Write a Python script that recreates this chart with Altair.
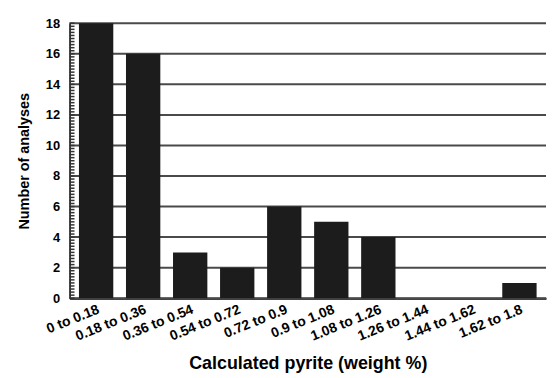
import altair as alt
import pandas as pd

categories = ["0 to 0.18", "0.18 to 0.36", "0.36 to 0.54", "0.54 to 0.72", "0.72 to 0.9",
              "0.9 to 1.08", "1.08 to 1.26", "1.26 to 1.44", "1.44 to 1.62", "1.62 to 1.8"]
counts = [18, 16, 3, 2, 6, 5, 4, 0, 0, 1]
major_ticks = [0, 2, 4, 6, 8, 10, 12, 14, 16, 18]
minor_ticks = [round(i * 0.2, 1) for i in range(91)]

W, H = 480, 277
FONT = "Liberation Sans"

df = pd.DataFrame({"range": categories, "count": counts})
grid_df = pd.DataFrame({"tick": major_ticks})
minor_df = pd.DataFrame({"tick": minor_ticks})

yscale = alt.Scale(domain=[0, 18], nice=False)
yaxis = alt.Axis(values=major_ticks, grid=False, tickSize=0,
                 domainColor="black", domainWidth=1.5,
                 labelFont=FONT, labelFontWeight="bold", labelFontSize=13,
                 labelColor="black", labelPadding=10,
                 title="Number of analyses", titleFont=FONT, titleFontSize=14.5,
                 titleFontWeight="bold", titleColor="black", titlePadding=14)

grid = alt.Chart(grid_df).mark_rule(color="#4a4a4a", strokeWidth=2).encode(
    y=alt.Y("tick:Q", scale=yscale, axis=yaxis),
    x=alt.value(0), x2=alt.value(W),
)

minor = alt.Chart(minor_df).mark_rule(color="#333333", strokeWidth=1.5).encode(
    y=alt.Y("tick:Q", scale=yscale, axis=yaxis),
    x=alt.value(0), x2=alt.value(5),
)

bars = alt.Chart(df).mark_bar(color="#1c1c1c").encode(
    x=alt.X("range:N", sort=categories,
            scale=alt.Scale(paddingInner=0.27, paddingOuter=0.2),
            axis=alt.Axis(title="Calculated pyrite (weight %)", labelAngle=-22,
                          labelFontWeight="bold", labelFontSize=14, labelFont=FONT,
                          labelColor="black", labelPadding=4,
                          titleFont=FONT, titleFontSize=18, titleFontWeight="bold",
                          titleColor="black", titlePadding=12,
                          tickSize=0, domainColor="black", domainWidth=2)),
    y=alt.Y("count:Q", scale=yscale, axis=yaxis),
)

chart = alt.layer(grid, minor, bars).properties(
    width=W, height=H,
    padding={"left": 8, "top": 8, "right": 0, "bottom": 0},
).configure_view(stroke=None)

chart.save("out.html", embed_options={"renderer": "svg", "actions": False})
